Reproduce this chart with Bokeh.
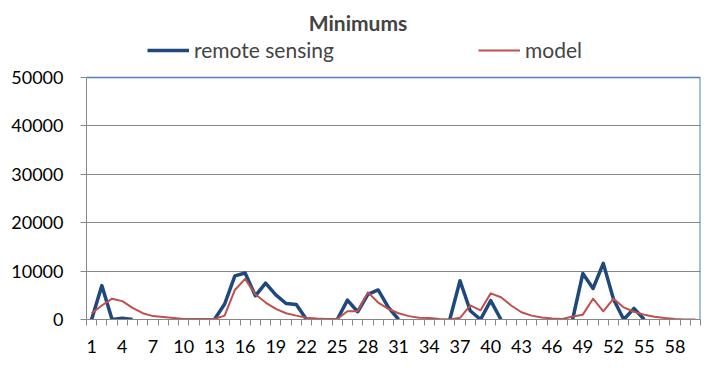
import numpy as np
from bokeh.plotting import figure
from bokeh.models import Range1d, FixedTicker, Legend, LegendItem, Label, Span
from bokeh.embed import file_html
from bokeh.resources import INLINE

title_text = "Minimums"
series_names = ["remote sensing", "model"]
categories = list(range(1, 61))
N = None
remote_sensing = [0, 7000, 0, 270, 0, N, N, N, N, N,
                  N, N, 0, 3200, 9000, 9600, 4900, 7500, 5100, 3300,
                  3100, 0, N, N, 0, 4000, 1600, 5200, 6100, 2500,
                  0, N, N, N, N, 0, 8000, 1800, 0, 3900,
                  0, N, N, N, N, N, N, 0, 9500, 6400,
                  11600, 4200, 0, 2300, 0, N, N, N, N, N]
model = [1300, 2900, 4300, 3800, 2400, 1300, 700, 500, 300, 100,
         100, 100, 100, 800, 6100, 8400, 5200, 3500, 2200, 1300,
         800, 350, 200, 100, 100, 1700, 1700, 5600, 3500, 2200,
         1300, 700, 350, 300, 100, 0, 350, 2900, 1900, 5400,
         4600, 2900, 1500, 800, 400, 200, 100, 600, 1000, 4300,
         1700, 4300, 2500, 1600, 1000, 550, 300, 100, 0, 0]
y_ticks = [0, 10000, 20000, 30000, 40000, 50000]
x_label_ticks = list(range(1, 61, 3))

FONT = "Lato"
GRAY = "#868686"
BORDER = "#4F81BD"

Y_MAX = 50000
# plot area spans 242 px for the value axis; the frame is extended upward
# to hold the title and legend (319 px total above the x axis)
FRAME_TOP = Y_MAX * 319.0 / 242.0

rs = np.array([np.nan if v is None else v for v in remote_sensing], dtype=float)
md = np.array(model, dtype=float)

p = figure(width=728, height=372, output_backend="svg", toolbar_location=None,
           x_range=Range1d(0.5, 60.5), y_range=Range1d(0, FRAME_TOP),
           min_border_left=86, min_border_right=28, min_border_top=0,
           min_border_bottom=53)
p.outline_line_color = None
p.background_fill_color = "white"
p.border_fill_color = "white"

# axes
p.xaxis.ticker = FixedTicker(ticks=x_label_ticks,
                             minor_ticks=[c + 0.5 for c in [0] + categories])
p.xaxis.major_tick_line_color = None
p.xaxis.major_tick_out = 0
p.xaxis.major_tick_in = 0
p.xaxis.minor_tick_line_color = GRAY
p.xaxis.minor_tick_out = 6
p.xaxis.minor_tick_in = 0
p.xaxis.axis_line_color = GRAY
p.xaxis.major_label_standoff = 14
p.xaxis.major_label_text_font = FONT
p.xaxis.major_label_text_font_size = "18px"
p.xaxis.major_label_text_color = "black"

p.yaxis.ticker = FixedTicker(ticks=y_ticks)
p.yaxis.bounds = (0, Y_MAX)
p.yaxis.minor_tick_line_color = None
p.yaxis.major_tick_line_color = GRAY
p.yaxis.major_tick_out = 6
p.yaxis.major_tick_in = 0
p.yaxis.axis_line_color = GRAY
p.yaxis.major_label_standoff = 17
p.yaxis.major_label_text_font = FONT
p.yaxis.major_label_text_font_size = "18px"
p.yaxis.major_label_text_color = "black"
p.yaxis.formatter.use_scientific = False

p.xgrid.grid_line_color = None
p.ygrid.ticker = FixedTicker(ticks=y_ticks[:-1])
p.ygrid.grid_line_color = GRAY
p.ygrid.grid_line_width = 1

# plot-area border: top and right
p.add_layout(Span(location=Y_MAX, dimension="width", line_color=BORDER, line_width=1.5))
p.segment(x0=[p.x_range.end], y0=[0], x1=[p.x_range.end], y1=[Y_MAX],
          line_color=BORDER, line_width=2)

r1 = p.line(categories, rs, line_color="#1F497D", line_width=3.5, line_join="round")
r2 = p.line(categories, md, line_color="#C0504D", line_width=2, line_join="round")

legend = Legend(items=[LegendItem(label=series_names[0], renderers=[r1]),
                       LegendItem(label=series_names[1], renderers=[r2])],
                orientation="horizontal", location=(61, 257),
                glyph_width=42, label_standoff=5, spacing=142, label_width=142,
                padding=0, margin=0, border_line_color=None,
                background_fill_alpha=0,
                label_text_font=FONT, label_text_font_size="21px")
p.add_layout(legend)

p.add_layout(Label(x=271.5, y=297, x_units="screen", y_units="screen",
                   text=title_text, text_font=FONT, text_font_style="bold",
                   text_font_size="21px", text_align="center",
                   text_baseline="alphabetic"))

open("out.html", "w").write(file_html(p, INLINE))
